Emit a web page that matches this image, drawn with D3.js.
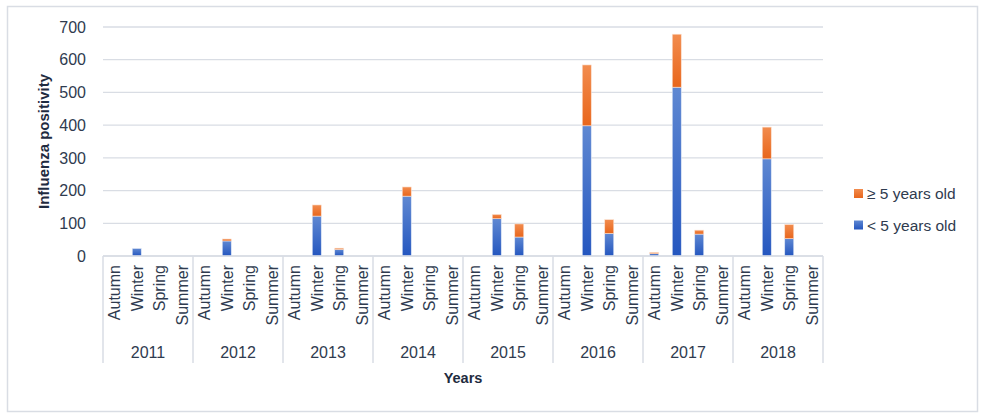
<!DOCTYPE html>
<html><head><meta charset="utf-8">
<script src="https://cdn.jsdelivr.net/npm/d3@7"></script>
<style>body{margin:0;background:#fff;font-family:"Liberation Sans",Arial,sans-serif;}</style>
</head><body>
<svg id="c" width="986" height="420"></svg>
<script>
const years = ["2011","2012","2013","2014","2015","2016","2017","2018"];
const seasons = ["Autumn","Winter","Spring","Summer"];
// values per year, in season order Autumn, Winter, Spring, Summer
const under5 = [
  [0,23,0,0],[0,46,0,0],[0,122,20,0],[0,183,0,0],
  [0,114,58,0],[0,398,69,0],[7,516,67,0],[0,297,53,0]
];
const over5 = [
  [0,0,0,0],[0,6,0,0],[0,34,4,0],[0,28,0,0],
  [0,13,40,0],[0,186,42,0],[4,162,12,0],[0,97,43,0]
];
const yTicks = [0,100,200,300,400,500,600,700];
const seriesNames = ["\u2265 5 years old","< 5 years old"];

const svg = d3.select("#c");
const textCol = "#2f3b4f", titleCol = "#1f2b40", gridCol = "#d9dde4";
const L = 103, R = 823, T = 27, B = 256;

svg.append("rect").attr("x",7.5).attr("y",6.5).attr("width",970).attr("height",405)
  .attr("fill","#fff").attr("stroke",gridCol).attr("stroke-width",1.5);

const defs = svg.append("defs");
function grad(id, c1, c2){
  const g = defs.append("linearGradient").attr("id",id).attr("x1",0).attr("y1",0).attr("x2",0).attr("y2",1);
  g.append("stop").attr("offset","0%").attr("stop-color",c1);
  g.append("stop").attr("offset","100%").attr("stop-color",c2);
}
grad("gb","#5f88d2","#2456bf");
grad("go","#f28c4e","#e8661c");

const cats = [];
years.forEach((y,yi)=>seasons.forEach((s,si)=>cats.push({year:y,season:s,key:y+"-"+s,
  u:under5[yi][si], o:over5[yi][si]})));

const x = d3.scaleBand().domain(cats.map(d=>d.key)).range([L,R]).paddingInner(0.6).paddingOuter(0.3);
const xYear = d3.scaleBand().domain(years).range([L,R]);
const y = d3.scaleLinear().domain([0,700]).range([B,T]);

// gridlines
svg.append("g").selectAll("line").data(yTicks).join("line")
  .attr("x1",L).attr("x2",R).attr("y1",d=>y(d)).attr("y2",d=>y(d))
  .attr("stroke",gridCol).attr("stroke-width",1.3);

// y tick labels
svg.append("g").selectAll("text").data(yTicks).join("text")
  .attr("x",86).attr("y",d=>y(d)).attr("dy","0.36em").attr("text-anchor","end")
  .attr("font-size",16).attr("fill",textCol).text(d=>d);

// bars
const bw = x.bandwidth();
const g = svg.append("g");
g.selectAll("rect.u").data(cats.filter(d=>d.u>0)).join("rect").attr("class","u")
  .attr("x",d=>x(d.key)).attr("width",bw)
  .attr("y",d=>y(d.u)).attr("height",d=>y(0)-y(d.u))
  .attr("fill","url(#gb)").attr("stroke","#dfe7f6").attr("stroke-width",0.6);
g.selectAll("rect.o").data(cats.filter(d=>d.o>0)).join("rect").attr("class","o")
  .attr("x",d=>x(d.key)).attr("width",bw)
  .attr("y",d=>y(d.u+d.o)).attr("height",d=>y(d.u)-y(d.u+d.o))
  .attr("fill","url(#go)").attr("stroke","#fbe0cf").attr("stroke-width",0.6);

// x axis line + year separators
svg.append("line").attr("x1",L).attr("x2",R).attr("y1",B).attr("y2",B)
  .attr("stroke",gridCol).attr("stroke-width",1.5);
const seps = years.map(d=>xYear(d)).concat([R]);
svg.append("g").selectAll("line").data(seps).join("line")
  .attr("x1",d=>d).attr("x2",d=>d).attr("y1",B).attr("y2",363)
  .attr("stroke",gridCol).attr("stroke-width",1.5);

// season labels
const step = (R-L)/cats.length;
svg.append("g").selectAll("text").data(cats).join("text")
  .attr("transform",(d,i)=>`translate(${L+step*(i+0.5)},265) rotate(-90)`)
  .attr("dy","0.36em").attr("text-anchor","end").attr("font-size",16).attr("fill",textCol)
  .text(d=>d.season);

// year labels
svg.append("g").selectAll("text").data(years).join("text")
  .attr("x",d=>xYear(d)+xYear.bandwidth()/2).attr("y",352).attr("dy","0.36em")
  .attr("text-anchor","middle").attr("font-size",16).attr("fill",textCol).text(d=>d);

// axis titles
svg.append("text").attr("transform",`translate(44,${(T+B)/2}) rotate(-90)`)
  .attr("dy","0.36em").attr("text-anchor","middle").attr("font-size",15).attr("font-weight","bold")
  .attr("fill",titleCol).text("Influenza positivity");
svg.append("text").attr("x",(L+R)/2).attr("y",378).attr("dy","0.36em").attr("text-anchor","middle")
  .attr("font-size",14.5).attr("font-weight","bold").attr("fill",titleCol).text("Years");

// legend
const lg = svg.append("g");
const legY = [193.5,225];
seriesNames.forEach((n,i)=>{
  lg.append("rect").attr("x",854).attr("y",legY[i]-4.5).attr("width",9).attr("height",9)
    .attr("fill",i===0?"url(#go)":"url(#gb)");
  lg.append("text").attr("x",867).attr("y",legY[i]).attr("dy","0.36em").attr("font-size",15.5)
    .attr("fill",textCol).text(n);
});
</script>
</body></html>
